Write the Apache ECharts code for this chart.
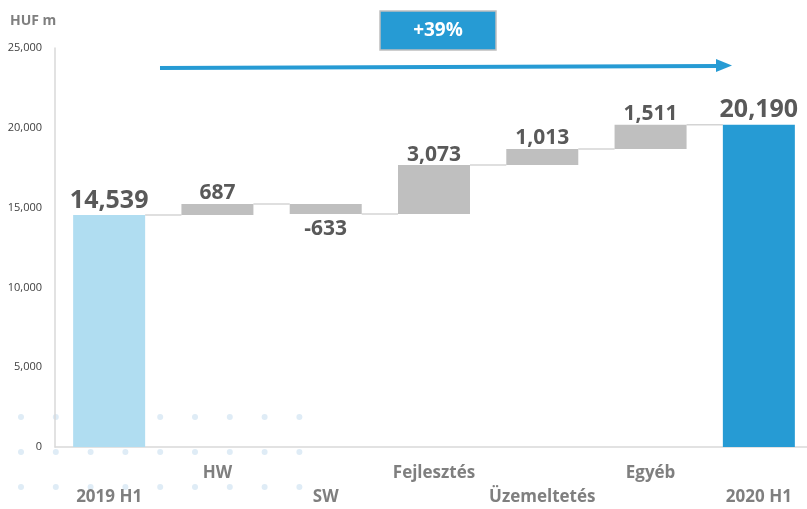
<!DOCTYPE html>
<html>
<head>
    <meta charset="utf-8">
    <title>HUF m waterfall</title>
    <script src="https://cdn.jsdelivr.net/npm/echarts@6/dist/echarts.min.js"></script>
    <style>
        html, body { margin: 0; padding: 0; background: #fff; }
        #chart { width: 807px; height: 509px; }
    </style>
</head>
<body>
    <div id="chart"></div>
    <script>
        // categories and values
        const categories = ['2019 H1', 'HW', 'SW', 'Fejlesztés', 'Üzemeltetés', 'Egyéb', '2020 H1'];
        const changes = [14539, 687, -633, 3073, 1013, 1511, 20190];
        const isTotal = [true, false, false, false, false, false, true];
        const yTicks = [0, 5000, 10000, 15000, 20000, 25000];
        const growthText = '+39%';

        const font = '"Open Sans", "DejaVu Sans", sans-serif';
        const fmt = v => v.toLocaleString('en-US');

        // build invisible base + visible part
        const base = [], visible = [], levels = [];
        let running = 0;
        changes.forEach((d, i) => {
            if (isTotal[i]) {
                base.push(0);
                visible.push(d);
                running = d;
            } else {
                base.push(Math.min(running, running + d));
                visible.push(Math.abs(d));
                running += d;
            }
            levels.push(running);
        });

        const barColors = ['#b0ddf1', '#bfbfbf', '#bfbfbf', '#bfbfbf', '#bfbfbf', '#bfbfbf', '#269bd4'];
        const barW = 72;

        const visibleData = visible.map((v, i) => ({
            value: v,
            itemStyle: { color: barColors[i] },
            label: {
                show: true,
                position: changes[i] < 0 ? 'bottom' : 'top',
                distance: isTotal[i] ? 2 : (changes[i] < 0 ? 4 : 0),
                fontSize: isTotal[i] ? 25 : 21,
                fontWeight: 'bold',
                fontFamily: font,
                color: '#595959',
                formatter: () => fmt(changes[i])
            }
        }));

        const connectorData = levels.slice(0, -1).map((l, i) => [i, l]);

        // decorative dot pattern (bottom left)
        const dots = [];
        [417, 452, 487].forEach(y => {
            for (let k = 0; k < 9; k++) {
                dots.push({
                    type: 'circle',
                    shape: { cx: 21 + k * 34.8, cy: y, r: 3 },
                    style: { fill: '#dfecf6' },
                    z: -10
                });
            }
        });

        const chart = echarts.init(document.getElementById('chart'));
        chart.setOption({
            animation: false,
            grid: { left: 55, top: 48, width: 758, height: 399, containLabel: false, outerBoundsMode: 'none' },
            xAxis: {
                type: 'category',
                data: categories,
                axisLine: { lineStyle: { color: '#d9d9d9', width: 1.5 } },
                axisTick: { show: false },
                axisLabel: {
                    interval: 0,
                    margin: 14,
                    fontFamily: font,
                    fontWeight: 'bold',
                    fontSize: 17,
                    lineHeight: 24,
                    color: '#7f7f7f',
                    formatter: (v, i) => (i % 2 === 0 ? '\n' + v : v)
                }
            },
            yAxis: {
                type: 'value',
                min: yTicks[0],
                max: yTicks[yTicks.length - 1],
                interval: yTicks[1] - yTicks[0],
                axisLine: { show: true, lineStyle: { color: '#d9d9d9', width: 1.5 } },
                axisTick: { show: false },
                splitLine: { show: false },
                axisLabel: {
                    margin: 13,
                    fontFamily: font,
                    fontSize: 11,
                    color: '#404040',
                    formatter: v => fmt(v)
                }
            },
            graphic: [
                {
                    type: 'text', left: 10, top: 14, z: 10,
                    style: { text: 'HUF m', fontFamily: font, fontWeight: 'bold', fontSize: 14, fill: '#7f7f7f' }
                },
                {
                    type: 'rect', z: 10,
                    shape: { x: 380, y: 11, width: 116, height: 39 },
                    style: { fill: '#269bd4', stroke: '#bfbfbf', lineWidth: 1.5 }
                },
                {
                    type: 'text', z: 11, x: 438, y: 31,
                    style: { text: growthText, fontFamily: font, fontWeight: 'bold', fontSize: 19, fill: '#ffffff', align: 'center', verticalAlign: 'middle' }
                },
                {
                    type: 'line', z: 10,
                    shape: { x1: 160, y1: 68, x2: 718, y2: 66 },
                    style: { stroke: '#269bd4', lineWidth: 4 }
                },
                {
                    type: 'polygon', z: 10,
                    shape: { points: [[716, 59], [732, 65.5], [716, 72]] },
                    style: { fill: '#269bd4' }
                }
            ].concat(dots),
            series: [
                {
                    type: 'bar',
                    stack: 'wf',
                    barWidth: barW,
                    silent: true,
                    itemStyle: { color: 'transparent' },
                    data: base
                },
                {
                    type: 'bar',
                    stack: 'wf',
                    barWidth: barW,
                    data: visibleData
                },
                {
                    type: 'custom',
                    z: 1,
                    data: connectorData,
                    encode: { x: 0, y: 1 },
                    renderItem: (params, api) => {
                        const i = api.value(0);
                        const lvl = api.value(1);
                        const p1 = api.coord([i, lvl]);
                        const p2 = api.coord([i + 1, lvl]);
                        return {
                            type: 'line',
                            shape: { x1: p1[0] + barW / 2, y1: p1[1], x2: p2[0] - barW / 2, y2: p2[1] },
                            style: { stroke: '#d4d4d4', lineWidth: 1.5 }
                        };
                    }
                }
            ]
        });
    </script>
</body>
</html>
